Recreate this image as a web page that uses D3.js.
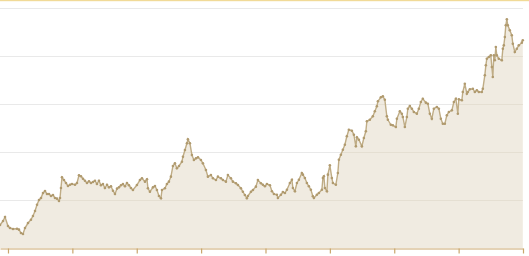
<!DOCTYPE html>
<html>
<head>
<meta charset="utf-8">
<script src="https://cdn.jsdelivr.net/npm/d3@7"></script>
<style>
  html, body { margin: 0; padding: 0; background: #fff; }
  svg { display: block; }
</style>
</head>
<body>
<div id="chart"></div>
<script>
// x ticks are the Januaries; the series starts a little before 2015
var tickYears = [2015, 2016, 2017, 2018, 2019, 2020, 2021, 2022, 2023];
var seriesStart = 2014.876;
var gridValues = [50, 100, 150, 200, 250];

// years since seriesStart
var yearsIn = [
  0, 0.047, 0.078, 0.124, 0.155, 0.202, 0.264, 0.295, 0.326, 0.357, 0.388, 0.435, 0.481, 0.512, 0.544, 0.575,
  0.606, 0.637, 0.668, 0.699, 0.730, 0.761, 0.792, 0.823, 0.854, 0.885, 0.916, 0.932, 0.947, 0.963, 0.994,
  1.025, 1.056, 1.087, 1.118, 1.165, 1.196, 1.227, 1.258, 1.289, 1.320, 1.351, 1.382, 1.413, 1.444, 1.475,
  1.506, 1.537, 1.568, 1.599, 1.630, 1.662, 1.693, 1.724, 1.755, 1.786, 1.817, 1.848, 1.879, 1.910, 1.941,
  1.972, 2.003, 2.034,
  2.065, 2.127, 2.174, 2.205, 2.252, 2.283, 2.298, 2.329, 2.376, 2.407, 2.438, 2.469, 2.500, 2.516, 2.562,
  2.593, 2.624, 2.655, 2.686, 2.717, 2.748, 2.780, 2.826, 2.842, 2.873, 2.904, 2.919, 2.950, 2.981, 3.012,
  3.044, 3.075, 3.121, 3.152, 3.199, 3.230, 3.276, 3.308, 3.354, 3.385, 3.432, 3.463, 3.509, 3.540, 3.587,
  3.618, 3.665, 3.696, 3.742, 3.773, 3.804, 3.835, 3.851, 3.898, 3.929, 3.975, 4.006, 4.053,
  4.084, 4.115, 4.146, 4.193, 4.224, 4.255, 4.301, 4.317, 4.363, 4.394, 4.426, 4.457, 4.503, 4.534, 4.550,
  4.581, 4.612, 4.643, 4.689, 4.705, 4.736, 4.767, 4.798, 4.829, 4.860, 4.876, 4.922, 4.953, 5.000, 5.016,
  5.031, 5.047, 5.078, 5.093, 5.124, 5.155, 5.171, 5.217, 5.248, 5.264, 5.295, 5.326, 5.357, 5.388, 5.419,
  5.466, 5.497, 5.528, 5.544, 5.575, 5.621, 5.652, 5.683, 5.699, 5.745, 5.792, 5.823, 5.854, 5.870, 5.916,
  5.947, 5.978, 6.009, 6.025, 6.071,
  6.102, 6.149, 6.165, 6.211, 6.242, 6.258, 6.289, 6.320, 6.335, 6.366, 6.398, 6.429, 6.475, 6.506, 6.537,
  6.568, 6.615, 6.646, 6.677, 6.708, 6.739, 6.786, 6.817, 6.848, 6.879, 6.910, 6.941, 6.972, 7.019, 7.050,
  7.081, 7.112, 7.127, 7.174, 7.189, 7.220, 7.252, 7.267, 7.298, 7.345, 7.376, 7.407, 7.438, 7.484, 7.500,
  7.531, 7.547, 7.562, 7.593, 7.624, 7.640, 7.655, 7.671, 7.686, 7.702, 7.717, 7.748, 7.795, 7.811, 7.826,
  7.842, 7.857, 7.873, 7.888, 7.919, 7.950, 7.966, 7.997, 8.028, 8.059, 8.106, 8.121
];

var values = [
  24.0, 28.1, 32.3, 22.9, 20.8, 19.8, 20.1, 19.1, 15.6, 14.6, 20.8, 26.0, 29.5, 33.3, 38.5, 45.1,
  50.0, 52.1, 57.3, 59.4, 56.3, 56.3, 54.2, 55.2, 52.1, 51.4, 49.0, 52.1, 62.5, 73.6, 70.8,
  67.7, 64.6, 65.9, 66.7, 65.9, 67.7, 75.7, 74.7, 72.2, 70.1, 67.7, 69.5, 67.7, 68.8, 70.1,
  66.7, 70.1, 65.3, 66.7, 62.5, 65.9, 63.2, 64.3, 59.7, 56.3, 61.8, 63.2, 65.3, 66.7, 64.3,
  67.7, 65.3, 62.5,
  60.4, 65.6, 70.8, 72.6, 69.1, 71.6, 62.2, 58.6, 63.2, 64.6, 60.4, 54.2, 51.8, 60.4, 62.2,
  66.7, 69.1, 74.3, 85.4, 88.2, 83.0, 85.4, 89.9, 95.1, 102.1, 109.1, 113.2, 109.1, 96.9, 91.7,
  93.4, 94.5, 91.7, 88.2, 81.3, 74.3, 76.0, 72.6, 70.8, 74.3, 72.6, 70.8, 69.1, 76.0, 72.6,
  69.1, 67.4, 65.6, 62.2, 58.6, 55.2, 51.8, 54.2, 58.6, 60.4, 63.9, 70.8, 67.4,
  65.9, 64.3, 66.7, 65.3, 59.1, 56.3, 55.5, 52.1, 55.5, 58.3, 57.3, 60.7, 67.7, 71.1, 62.5,
  59.1, 67.7, 71.1, 78.1, 76.4, 72.9, 67.7, 64.3, 60.7, 53.9, 52.1, 55.5, 57.3, 60.7, 72.9,
  74.7, 62.5, 59.1, 76.4, 86.1, 72.9, 67.7, 65.9, 78.1, 92.0, 97.2, 102.4, 107.6, 116.4, 123.2,
  122.2, 118.0, 105.9, 115.3, 112.8, 105.9, 114.6, 121.6, 132.0, 133.6, 137.2, 142.4, 147.6, 152.8, 157.0,
  158.0, 154.5, 137.2, 133.6, 128.4,
  127.8, 126.0, 134.7, 142.4, 139.9, 136.5, 126.0, 136.5, 145.1, 147.9, 145.1, 141.7, 139.9, 145.1, 152.1,
  155.5, 151.4, 150.3, 139.9, 134.7, 145.1, 146.9, 145.1, 134.7, 129.5, 129.5, 138.2, 141.7, 143.4, 152.1,
  155.5, 139.9, 154.9, 153.9, 162.5, 171.1, 160.7, 162.5, 165.3, 165.9, 162.5, 164.3, 162.5, 162.5, 165.9,
  179.9, 190.3, 197.2, 199.0, 200.7, 188.5, 178.1, 200.7, 195.5, 209.4, 200.7, 197.2, 195.5, 207.6, 211.1,
  219.8, 232.0, 238.2, 232.0, 226.8, 221.6, 212.8, 204.2, 207.6, 211.1, 213.9, 216.4
];

var data = yearsIn.map(function(d, i) {
  return { year: seriesStart + d, value: values[i] };
});

var width = 529, height = 256;
var plotRight = 523, plotBottom = 248;

var svg = d3.select("#chart")
  .append("svg")
    .attr("width", width)
    .attr("height", height);

var x = d3.scaleLinear()
  .domain([seriesStart, tickYears[tickYears.length - 1]])
  .range([0, plotRight]);

var y = d3.scaleLinear()
  .domain([0, 250])
  .range([plotBottom, 8]);

var area = d3.area()
  .x(function(d) { return x(d.year); })
  .y0(plotBottom)
  .y1(function(d) { return y(d.value); });

// thin yellow band along the top
svg.append("rect")
  .attr("x", 0).attr("y", 0)
  .attr("width", width).attr("height", 1.2)
  .attr("fill", "#f1da97");

function drawGrid(g, colour) {
  g.selectAll("line")
    .data(gridValues)
    .enter().append("line")
      .attr("x1", 0)
      .attr("x2", plotRight)
      .attr("y1", function(d) { return Math.round(y(d)) + 0.5; })
      .attr("y2", function(d) { return Math.round(y(d)) + 0.5; })
      .attr("stroke", colour)
      .attr("stroke-width", 1);
}

drawGrid(svg.append("g"), "#e9e9e9");

// area under the line
svg.append("path")
  .datum(data)
  .attr("fill", "#f0ebe1")
  .attr("d", area);

// grid lines stay faintly visible inside the fill
svg.append("clipPath")
  .attr("id", "fillclip")
  .append("path")
    .datum(data)
    .attr("d", area);

drawGrid(svg.append("g").attr("clip-path", "url(#fillclip)"), "#e5dfd2");

svg.append("path")
  .datum(data)
  .attr("fill", "none")
  .attr("stroke", "#bfac85")
  .attr("stroke-width", 1.4)
  .attr("d", d3.line()
    .x(function(d) { return x(d.year); })
    .y(function(d) { return y(d.value); }));

svg.append("g")
  .selectAll("circle")
  .data(data)
  .enter().append("circle")
    .attr("cx", function(d) { return x(d.year); })
    .attr("cy", function(d) { return y(d.value); })
    .attr("r", 1.3)
    .attr("fill", "#b09a6e");

// x axis: ticks only, no labels
var xAxis = svg.append("g")
  .attr("transform", "translate(0," + (plotBottom + 0.5) + ")")
  .call(d3.axisBottom(x)
    .tickValues(tickYears)
    .tickSize(5)
    .tickSizeOuter(0)
    .tickFormat(""));

xAxis.select(".domain").attr("stroke", "#c9a66c").attr("stroke-width", 1.2);
xAxis.selectAll(".tick line").attr("stroke", "#c9a66c").attr("stroke-width", 1.2);
</script>
</body>
</html>
